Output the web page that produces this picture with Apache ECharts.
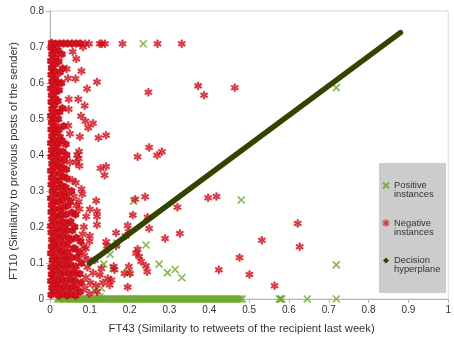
<!DOCTYPE html>
<html>
<head>
<meta charset="utf-8">
<script src="https://cdn.jsdelivr.net/npm/echarts@6/dist/echarts.min.js"></script>
<style>
  html, body { margin: 0; padding: 0; background: #fff; }
  #chart { width: 454px; height: 339px; }
</style>
</head>
<body>
<div id="chart"></div>
<script>
var seriesNames = ['Positive instances', 'Negative instances', 'Decision hyperplane']

// positive instances lying on y = 0 (x values only)
var positiveBandX = [0.019, 0.023, 0.027, 0.032, 0.036, 0.041, 0.046, 0.05, 0.055, 0.059, 0.064, 0.068,
  0.073, 0.077, 0.082, 0.086, 0.091, 0.095, 0.1, 0.104, 0.109, 0.113, 0.118, 0.122, 0.127, 0.131, 0.136,
  0.14, 0.145, 0.149, 0.154, 0.158, 0.163, 0.167, 0.172, 0.176, 0.181, 0.185, 0.19, 0.194, 0.199, 0.203,
  0.208, 0.212, 0.217, 0.221, 0.226, 0.23, 0.235, 0.239, 0.244, 0.248, 0.253, 0.257, 0.262, 0.266, 0.271,
  0.275, 0.28, 0.284, 0.289, 0.293, 0.298, 0.302, 0.307, 0.311, 0.316, 0.32, 0.325, 0.329, 0.334, 0.338,
  0.343, 0.347, 0.352, 0.356, 0.361, 0.365, 0.37, 0.374, 0.379, 0.383, 0.388, 0.392, 0.397, 0.401, 0.406,
  0.41, 0.415, 0.419, 0.424, 0.428, 0.433, 0.437, 0.442, 0.446, 0.451, 0.455, 0.46, 0.464, 0.469, 0.473,
  0.478, 0.483, 0.576, 0.579, 0.582, 0.646, 0.719]

// the other positive instances [x, y]
var positiveOther = [[0.234, 0.709], [0.719, 0.587], [0.48, 0.275], [0.719, 0.095], [0.21, 0.272],
  [0.168, 0.155], [0.151, 0.124], [0.241, 0.15], [0.135, 0.097], [0.158, 0.085], [0.198, 0.073],
  [0.274, 0.097], [0.295, 0.073], [0.314, 0.082], [0.331, 0.059], [0.129, 0.03], [0.112, 0.023],
  [0.033, 0.011], [0.125, 0.006]]

// negative instances, dense mass near x = 0
var negativeCore = [
  [0.003, 0.012], [0.005, 0.031], [0.002, 0.05], [0.004, 0.069], [0.003, 0.088], [0.006, 0.108], [0.002, 0.127],
  [0.004, 0.146], [0.005, 0.165], [0.003, 0.185], [0.002, 0.203], [0.005, 0.222], [0.003, 0.242], [0.004, 0.261],
  [0.002, 0.28], [0.006, 0.299], [0.003, 0.318], [0.004, 0.337], [0.002, 0.356], [0.005, 0.376], [0.003, 0.395],
  [0.004, 0.414], [0.002, 0.433], [0.005, 0.452], [0.003, 0.471], [0.004, 0.49], [0.002, 0.509], [0.005, 0.528],
  [0.003, 0.547], [0.004, 0.566], [0.002, 0.585], [0.005, 0.604], [0.003, 0.623], [0.004, 0.642], [0.002, 0.661],
  [0.005, 0.68], [0.003, 0.698], [0.004, 0.711],
  [0.012, 0.02], [0.014, 0.04], [0.011, 0.06], [0.013, 0.079], [0.015, 0.098], [0.012, 0.117], [0.014, 0.137],
  [0.011, 0.156], [0.013, 0.175], [0.015, 0.194], [0.012, 0.213], [0.014, 0.232], [0.011, 0.251], [0.013, 0.27],
  [0.015, 0.29], [0.012, 0.309], [0.014, 0.328], [0.011, 0.347], [0.013, 0.366], [0.015, 0.385], [0.012, 0.404],
  [0.014, 0.423], [0.011, 0.442], [0.013, 0.461], [0.015, 0.48], [0.012, 0.5], [0.014, 0.519], [0.011, 0.538],
  [0.013, 0.557], [0.015, 0.576], [0.012, 0.595], [0.014, 0.614], [0.011, 0.633], [0.013, 0.652], [0.015, 0.671],
  [0.012, 0.69], [0.014, 0.709],
  [0.022, 0.01], [0.024, 0.03], [0.021, 0.05], [0.025, 0.07], [0.023, 0.09], [0.022, 0.11], [0.026, 0.13],
  [0.021, 0.15], [0.024, 0.17], [0.023, 0.19], [0.025, 0.21], [0.022, 0.23], [0.024, 0.25], [0.021, 0.27],
  [0.026, 0.29], [0.023, 0.31], [0.022, 0.33], [0.025, 0.35], [0.021, 0.37], [0.024, 0.39], [0.023, 0.41],
  [0.02, 0.43], [0.025, 0.45], [0.022, 0.47], [0.021, 0.5], [0.024, 0.52], [0.02, 0.55], [0.023, 0.58],
  [0.021, 0.6], [0.025, 0.63], [0.022, 0.66], [0.02, 0.69], [0.024, 0.71],
  [0.032, 0.015], [0.034, 0.035], [0.031, 0.055], [0.035, 0.075], [0.033, 0.095], [0.036, 0.115], [0.031, 0.135],
  [0.034, 0.155], [0.032, 0.175], [0.035, 0.195], [0.033, 0.215], [0.031, 0.235], [0.034, 0.255], [0.032, 0.275],
  [0.036, 0.295], [0.03, 0.315], [0.033, 0.34], [0.031, 0.365], [0.035, 0.385], [0.032, 0.41], [0.03, 0.44],
  [0.034, 0.48], [0.031, 0.53], [0.029, 0.6], [0.032, 0.64], [0.03, 0.68], [0.034, 0.71],
  [0.043, 0.01], [0.045, 0.03], [0.042, 0.05], [0.046, 0.07], [0.044, 0.09], [0.041, 0.11], [0.045, 0.13],
  [0.043, 0.15], [0.046, 0.17], [0.042, 0.19], [0.044, 0.21], [0.041, 0.235], [0.045, 0.26], [0.042, 0.285],
  [0.04, 0.31], [0.043, 0.335], [0.041, 0.36], [0.042, 0.4], [0.04, 0.43], [0.044, 0.71],
  [0.053, 0.015], [0.056, 0.035], [0.054, 0.055], [0.057, 0.075], [0.052, 0.095], [0.055, 0.115], [0.058, 0.14],
  [0.053, 0.165], [0.056, 0.19], [0.052, 0.215], [0.055, 0.24], [0.051, 0.27], [0.054, 0.3], [0.055, 0.71],
  [0.064, 0.01], [0.066, 0.03], [0.063, 0.05], [0.067, 0.07], [0.065, 0.09], [0.068, 0.115], [0.063, 0.14],
  [0.066, 0.17], [0.062, 0.2], [0.064, 0.235], [0.066, 0.71],
  [0.076, 0.02], [0.078, 0.045], [0.075, 0.07], [0.079, 0.1], [0.074, 0.13], [0.077, 0.16], [0.076, 0.71]
]

// negative instances spread away from the mass
var negativeOutliers = [
  [0.088, 0.03], [0.09, 0.06], [0.094, 0.088], [0.086, 0.12], [0.101, 0.045], [0.108, 0.072], [0.115, 0.038],
  [0.125, 0.067], [0.133, 0.045], [0.145, 0.057], [0.154, 0.053], [0.15, 0.039], [0.129, 0.085], [0.096, 0.108],
  [0.112, 0.108], [0.099, 0.015], [0.118, 0.02], [0.16, 0.09], [0.162, 0.081], [0.187, 0.071], [0.198, 0.09],
  [0.201, 0.071], [0.195, 0.033], [0.085, 0.145], [0.09, 0.14],
  [0.065, 0.323], [0.079, 0.305], [0.081, 0.291], [0.116, 0.273], [0.1, 0.249], [0.118, 0.243], [0.118, 0.229],
  [0.091, 0.229], [0.118, 0.206], [0.1, 0.175], [0.099, 0.16], [0.072, 0.27], [0.06, 0.285], [0.074, 0.25],
  [0.085, 0.2], [0.082, 0.18], [0.066, 0.26], [0.127, 0.363], [0.141, 0.368], [0.137, 0.344], [0.065, 0.38],
  [0.068, 0.4], [0.073, 0.41], [0.056, 0.33], [0.05, 0.38], [0.072, 0.39], [0.074, 0.37],
  [0.214, 0.277], [0.239, 0.284], [0.208, 0.233], [0.245, 0.227], [0.32, 0.255], [0.195, 0.204], [0.249, 0.196],
  [0.326, 0.182], [0.166, 0.184], [0.198, 0.187], [0.19, 0.175], [0.289, 0.168], [0.141, 0.159], [0.143, 0.147],
  [0.166, 0.147], [0.22, 0.138], [0.216, 0.127], [0.224, 0.118], [0.229, 0.104], [0.241, 0.092], [0.244, 0.076],
  [0.397, 0.281], [0.418, 0.285], [0.622, 0.21], [0.532, 0.163], [0.627, 0.145], [0.476, 0.115], [0.501, 0.068],
  [0.564, 0.037], [0.424, 0.081],
  [0.057, 0.687], [0.066, 0.667], [0.079, 0.633], [0.064, 0.612], [0.042, 0.639], [0.045, 0.613], [0.118, 0.603],
  [0.093, 0.584], [0.247, 0.574], [0.372, 0.592], [0.387, 0.566], [0.464, 0.587], [0.071, 0.555], [0.047, 0.555],
  [0.087, 0.537], [0.047, 0.527], [0.078, 0.508], [0.089, 0.494], [0.108, 0.488], [0.096, 0.476], [0.046, 0.482],
  [0.05, 0.459], [0.075, 0.451], [0.122, 0.448], [0.141, 0.455], [0.249, 0.421], [0.22, 0.395], [0.269, 0.399],
  [0.281, 0.409],
  [0.083, 0.7], [0.088, 0.709], [0.098, 0.709], [0.125, 0.709], [0.13, 0.709], [0.138, 0.709], [0.182, 0.709],
  [0.27, 0.709], [0.331, 0.709]
]

// decision hyperplane end points
var hyperplane = [[0.1, 0.1], [0.88, 0.74]]

var RED = '#c8000e'
var GREEN = '#6aa628'
var OLIVE = '#334400'

var crossPath = 'path://M0,0L10,10M0,10L10,0'
// filled six-armed asterisk
var starPath = 'path://M3.9,0L6.1,0L6.1,10L3.9,10Z' +
  'M8.78,8.45L9.88,6.55L1.22,1.55L0.12,3.45Z' +
  'M0.12,6.55L1.22,8.45L9.88,3.45L8.78,1.55Z'

var positiveData = positiveBandX.map(function (x) { return [x, 0] }).concat(positiveOther)
var negativeData = negativeCore.concat(negativeOutliers)

var chart = echarts.init(document.getElementById('chart'), null, { renderer: 'canvas' })

chart.setOption({
  animation: false,
  textStyle: { fontFamily: 'Liberation Sans, Arial, sans-serif' },
  grid: {
    left: 50,
    right: 3,
    top: 11,
    bottom: 40,
    show: true,
    borderColor: '#d6d6d6',
    borderWidth: 1
  },
  graphic: [{
    type: 'rect',
    left: 379,
    top: 163,
    shape: { width: 67, height: 130 },
    style: { fill: '#cccccc' },
    z: 5
  }],
  legend: {
    orient: 'vertical',
    left: 382,
    top: 172,
    padding: 0,
    itemWidth: 6,
    itemHeight: 6,
    itemGap: 10.5,
    z: 10,
    textStyle: {
      fontSize: 9.4,
      color: '#333333',
      lineHeight: 9
    },
    // empty first line keeps the icon level with the first word
    formatter: function (name) { return ' \n' + name.replace(' ', '\n') },
    data: [
      { name: seriesNames[0] },
      { name: seriesNames[1] },
      { name: seriesNames[2], icon: 'diamond' }
    ]
  },
  xAxis: {
    type: 'value',
    min: 0,
    max: 1,
    interval: 0.1,
    name: 'FT43 (Similarity to retweets of the recipient last week)',
    nameLocation: 'middle',
    nameGap: 24,
    nameTextStyle: { fontSize: 11.2, color: '#333333', padding: [0, 15, 0, 0] },
    axisLine: { show: true, lineStyle: { color: '#b3b3b3' } },
    axisTick: { show: true, length: 4, lineStyle: { color: '#b3b3b3' } },
    axisLabel: { fontSize: 10, color: '#333333', margin: 6 },
    splitLine: { show: false }
  },
  yAxis: {
    type: 'value',
    min: 0,
    max: 0.8,
    interval: 0.1,
    name: 'FT10 (Similarity to previous posts of the sender)',
    nameLocation: 'middle',
    nameGap: 31,
    nameTextStyle: { fontSize: 11.2, color: '#333333', padding: [0, 12, 0, 0] },
    axisLine: { show: true, lineStyle: { color: '#b3b3b3' } },
    axisTick: { show: true, length: 4, lineStyle: { color: '#b3b3b3' } },
    axisLabel: { fontSize: 10, color: '#333333', margin: 6 },
    splitLine: { show: false }
  },
  series: [
    {
      name: seriesNames[0],
      type: 'scatter',
      symbol: crossPath,
      symbolSize: 7,
      data: positiveData,
      itemStyle: { color: GREEN, borderColor: GREEN, borderWidth: 1.7 },
      emphasis: { disabled: true }
    },
    {
      // solid backing so the overlapping asterisks of the mass read as one block
      name: 'negative-core',
      type: 'scatter',
      symbol: 'circle',
      symbolSize: 7,
      data: negativeCore,
      itemStyle: { color: RED },
      emphasis: { disabled: true },
      silent: true
    },
    {
      name: seriesNames[1],
      type: 'scatter',
      symbol: starPath,
      symbolSize: 8,
      data: negativeData,
      itemStyle: { color: RED, borderColor: 'rgba(215,40,50,0.35)', borderWidth: 1 },
      emphasis: { disabled: true }
    },
    {
      name: seriesNames[2],
      type: 'line',
      symbol: 'none',
      data: hyperplane,
      itemStyle: { color: OLIVE },
      lineStyle: { color: OLIVE, width: 5.5, cap: 'round' },
      emphasis: { disabled: true }
    }
  ]
})
</script>
</body>
</html>
